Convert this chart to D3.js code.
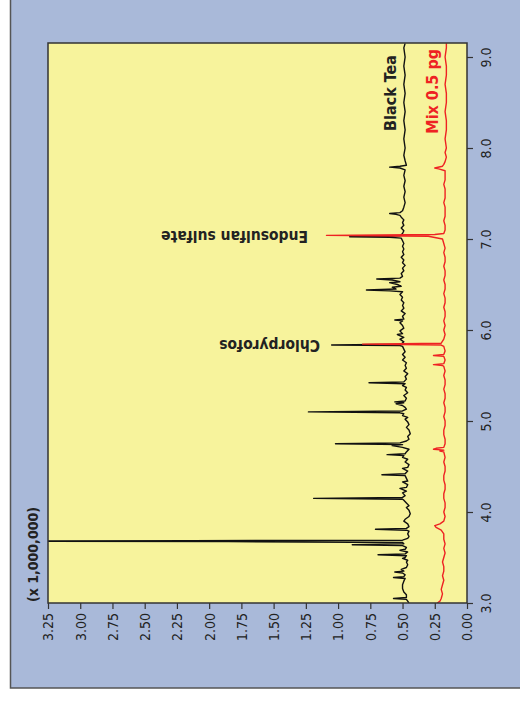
<!DOCTYPE html>
<html>
<head>
<meta charset="utf-8">
<script src="https://cdn.jsdelivr.net/npm/d3@7"></script>
<style>
  body { margin: 0; background: #fff; }
  svg text { font-family: "Liberation Sans Narrow", "DejaVu Sans Condensed", "Liberation Sans", sans-serif; }
</style>
</head>
<body>
<script>
// retention time ticks (min) and abundance ticks (x 1,000,000)
var timeTicks = [3.0, 4.0, 5.0, 6.0, 7.0, 8.0, 9.0];
var abundTicks = [0.00, 0.25, 0.50, 0.75, 1.00, 1.25, 1.50, 1.75, 2.00, 2.25, 2.50, 2.75, 3.00, 3.25];

// Black Tea trace: [time, abundance]
var blackTea = [
  [3.00,0.45],[3.02,0.46],[3.04,0.47],[3.05,0.57],[3.06,0.47],[3.09,0.47],[3.12,0.49],[3.16,0.50],
  [3.20,0.50],[3.24,0.49],[3.27,0.48],[3.28,0.57],[3.29,0.49],[3.31,0.48],[3.33,0.50],[3.34,0.56],
  [3.35,0.49],[3.37,0.51],[3.39,0.47],[3.42,0.46],[3.45,0.47],[3.47,0.46],[3.49,0.50],[3.50,0.48],
  [3.52,0.47],[3.53,0.69],[3.54,0.48],[3.56,0.46],[3.58,0.52],[3.59,0.48],[3.61,0.47],[3.63,0.50],
  [3.64,0.89],[3.65,0.49],[3.665,0.50],[3.675,1.85],[3.68,3.60],[3.685,2.13],[3.69,0.50],[3.71,0.46],
  [3.73,0.45],[3.76,0.46],[3.79,0.45],[3.80,0.47],[3.81,0.71],[3.82,0.47],[3.84,0.45],[3.87,0.46],
  [3.90,0.49],[3.92,0.48],[3.95,0.45],[3.98,0.44],[4.02,0.45],[4.05,0.47],[4.07,0.45],[4.10,0.47],
  [4.13,0.49],[4.14,0.50],[4.15,1.19],[4.16,0.50],[4.18,0.48],[4.21,0.50],[4.23,0.47],[4.26,0.52],
  [4.27,0.47],[4.30,0.46],[4.33,0.50],[4.34,0.46],[4.37,0.47],[4.40,0.48],[4.41,0.66],[4.42,0.48],
  [4.45,0.46],[4.48,0.50],[4.49,0.46],[4.52,0.45],[4.55,0.48],[4.58,0.46],[4.60,0.50],[4.62,0.49],
  [4.63,0.62],[4.64,0.48],[4.66,0.47],[4.69,0.45],[4.71,0.50],[4.73,0.58],[4.74,0.50],[4.75,1.02],
  [4.76,0.52],[4.78,0.47],[4.80,0.45],[4.83,0.46],[4.86,0.44],[4.90,0.45],[4.93,0.47],[4.96,0.45],
  [4.99,0.46],[5.02,0.48],[5.04,0.46],[5.06,0.50],[5.08,0.49],[5.09,0.52],[5.10,1.23],[5.11,0.50],
  [5.13,0.47],[5.15,0.48],[5.17,0.50],[5.19,0.55],[5.20,0.49],[5.21,0.56],[5.22,0.48],[5.25,0.47],
  [5.28,0.49],[5.31,0.46],[5.34,0.48],[5.37,0.47],[5.39,0.50],[5.41,0.48],[5.42,0.76],[5.43,0.49],
  [5.46,0.47],[5.49,0.48],[5.52,0.46],[5.55,0.49],[5.58,0.47],[5.61,0.48],[5.64,0.47],[5.67,0.50],
  [5.70,0.48],[5.73,0.50],[5.76,0.48],[5.79,0.49],[5.82,0.50],[5.83,0.52],[5.835,1.05],[5.845,0.51],
  [5.87,0.49],[5.90,0.52],[5.92,0.49],[5.95,0.54],[5.96,0.50],[5.99,0.52],[6.02,0.49],[6.05,0.50],
  [6.08,0.52],[6.10,0.50],[6.11,0.56],[6.12,0.49],[6.15,0.50],[6.18,0.48],[6.21,0.51],[6.24,0.49],
  [6.27,0.50],[6.30,0.49],[6.33,0.51],[6.36,0.50],[6.39,0.52],[6.42,0.50],[6.43,0.60],[6.44,0.78],
  [6.45,0.55],[6.47,0.58],[6.48,0.51],[6.50,0.54],[6.52,0.60],[6.53,0.52],[6.55,0.58],[6.56,0.70],
  [6.57,0.52],[6.59,0.50],[6.62,0.51],[6.65,0.49],[6.68,0.50],[6.71,0.48],[6.74,0.50],[6.77,0.49],
  [6.80,0.51],[6.83,0.49],[6.86,0.50],[6.89,0.49],[6.92,0.50],[6.95,0.49],[6.98,0.50],[7.01,0.51],
  [7.02,0.60],[7.025,0.91],[7.035,0.52],[7.06,0.50],[7.09,0.49],[7.12,0.51],[7.15,0.49],[7.18,0.50],
  [7.21,0.49],[7.24,0.51],[7.26,0.52],[7.27,0.55],[7.28,0.60],[7.29,0.52],[7.31,0.50],[7.35,0.49],
  [7.40,0.48],[7.46,0.49],[7.52,0.48],[7.58,0.49],[7.64,0.48],[7.70,0.49],[7.76,0.48],[7.78,0.52],
  [7.79,0.60],[7.80,0.52],[7.81,0.47],[7.86,0.48],[7.92,0.49],[8.00,0.48],[8.10,0.49],[8.20,0.48],
  [8.30,0.49],[8.40,0.48],[8.50,0.49],[8.60,0.48],[8.70,0.49],[8.80,0.48],[8.90,0.49],[9.00,0.48],
  [9.10,0.49],[9.15,0.48]
];

// Mix 0.5 pg trace: [time, abundance]
var mix05 = [
  [3.00,0.23],[3.02,0.21],[3.05,0.20],[3.10,0.19],[3.15,0.20],[3.20,0.19],[3.25,0.18],[3.30,0.19],
  [3.35,0.18],[3.40,0.18],[3.45,0.19],[3.50,0.18],[3.55,0.17],[3.60,0.18],[3.65,0.17],[3.70,0.18],
  [3.76,0.18],[3.80,0.20],[3.83,0.24],[3.85,0.25],[3.87,0.21],[3.90,0.18],[3.95,0.17],[4.00,0.18],
  [4.05,0.17],[4.10,0.17],[4.15,0.18],[4.20,0.18],[4.25,0.17],[4.30,0.17],[4.35,0.18],[4.40,0.18],
  [4.45,0.17],[4.50,0.17],[4.55,0.18],[4.60,0.17],[4.66,0.18],[4.67,0.21],[4.68,0.18],[4.69,0.26],
  [4.70,0.24],[4.71,0.18],[4.75,0.17],[4.80,0.17],[4.85,0.18],[4.90,0.18],[4.95,0.17],[5.00,0.17],
  [5.05,0.18],[5.10,0.17],[5.15,0.17],[5.20,0.18],[5.25,0.17],[5.30,0.17],[5.35,0.18],[5.40,0.17],
  [5.45,0.17],[5.50,0.18],[5.55,0.17],[5.60,0.18],[5.61,0.19],[5.62,0.26],[5.63,0.18],[5.67,0.17],
  [5.71,0.18],[5.72,0.26],[5.73,0.18],[5.77,0.17],[5.82,0.18],[5.835,0.20],[5.845,0.81],[5.855,0.20],
  [5.90,0.18],[5.95,0.17],[6.00,0.18],[6.05,0.17],[6.10,0.18],[6.15,0.17],[6.20,0.17],[6.25,0.18],
  [6.30,0.17],[6.35,0.17],[6.40,0.18],[6.45,0.17],[6.50,0.17],[6.55,0.18],[6.60,0.17],[6.65,0.17],
  [6.70,0.18],[6.75,0.17],[6.80,0.17],[6.85,0.18],[6.90,0.17],[6.95,0.18],[7.00,0.19],[7.03,0.30],
  [7.04,1.09],[7.05,0.25],[7.06,0.18],[7.10,0.17],[7.15,0.17],[7.20,0.18],[7.25,0.17],[7.30,0.17],
  [7.35,0.17],[7.40,0.18],[7.45,0.17],[7.50,0.17],[7.55,0.17],[7.60,0.18],[7.65,0.17],[7.70,0.17],
  [7.75,0.17],[7.77,0.22],[7.78,0.25],[7.80,0.19],[7.82,0.18],[7.85,0.17],[7.90,0.16],[7.95,0.17],
  [8.00,0.16],[8.10,0.17],[8.20,0.16],[8.30,0.16],[8.40,0.17],[8.50,0.16],[8.60,0.16],[8.70,0.17],
  [8.80,0.16],[8.90,0.16],[9.00,0.17],[9.10,0.16],[9.15,0.16]
];

var W = 520, H = 708;
var plot = { left: 48, right: 467, top: 43, bottom: 603 };

var svg = d3.select("body")
    .append("svg")
    .attr("width", W)
    .attr("height", H);

// outer panel
svg.append("rect")
    .attr("x", 10.5)
    .attr("y", -2)
    .attr("width", W)
    .attr("height", 690)
    .attr("fill", "#a9b9d9")
    .attr("stroke", "#555")
    .attr("stroke-width", 1.5);

// scales: time runs up the page, abundance grows to the left
var tScale = d3.scaleLinear()
    .domain([3.0, 9.0])
    .range([plot.bottom, plot.bottom - 6 * 91]);

var vScale = d3.scaleLinear()
    .domain([0, 3.25])
    .range([plot.right, plot.left]);

svg.append("rect")
    .attr("x", plot.left)
    .attr("y", plot.top)
    .attr("width", plot.right - plot.left)
    .attr("height", plot.bottom - plot.top)
    .attr("fill", "#f7f39c");

svg.append("clipPath")
    .attr("id", "clip")
    .append("rect")
    .attr("x", plot.left)
    .attr("y", plot.top)
    .attr("width", plot.right - plot.left)
    .attr("height", plot.bottom - plot.top);

var line = d3.line()
    .x(d => vScale(d[1]))
    .y(d => tScale(d[0]));

var traces = svg.append("g").attr("clip-path", "url(#clip)");

traces.append("path")
    .datum(blackTea)
    .attr("d", line)
    .attr("fill", "none")
    .attr("stroke", "#111")
    .attr("stroke-width", 1.4)
    .attr("stroke-linejoin", "round");

traces.append("path")
    .datum(mix05)
    .attr("d", line)
    .attr("fill", "none")
    .attr("stroke", "#ee2222")
    .attr("stroke-width", 1.4)
    .attr("stroke-linejoin", "round");

// plot frame
svg.append("rect")
    .attr("x", plot.left)
    .attr("y", plot.top)
    .attr("width", plot.right - plot.left)
    .attr("height", plot.bottom - plot.top)
    .attr("fill", "none")
    .attr("stroke", "#333")
    .attr("stroke-width", 1.5);

// time axis (right)
var tAxis = svg.append("g")
    .attr("transform", "translate(" + plot.right + ",0)")
    .call(d3.axisRight(tScale)
        .tickValues(timeTicks)
        .tickFormat(d3.format(".1f"))
        .tickSize(6)
        .tickSizeOuter(0));
tAxis.select(".domain").remove();
tAxis.selectAll("line").attr("stroke", "#333").attr("stroke-width", 1.2);
tAxis.selectAll("text")
    .attr("x", 0)
    .attr("text-anchor", "middle")
    .attr("transform", "translate(19,0) rotate(-90)")
    .attr("dy", "0.35em")
    .style("font-size", "14px")
    .attr("fill", "#222");

// abundance axis (bottom)
var vAxis = svg.append("g")
    .attr("transform", "translate(0," + plot.bottom + ")")
    .call(d3.axisBottom(vScale)
        .tickValues(abundTicks)
        .tickFormat(d3.format(".2f"))
        .tickSize(6)
        .tickSizeOuter(0));
vAxis.select(".domain").remove();
vAxis.selectAll("line").attr("stroke", "#333").attr("stroke-width", 1.2);
vAxis.selectAll("text")
    .attr("y", 0)
    .attr("text-anchor", "end")
    .attr("transform", "translate(0,10) rotate(-90)")
    .attr("dy", "0.35em")
    .style("font-size", "14px")
    .attr("fill", "#222");

// unit label
svg.append("text")
    .text("(x 1,000,000)")
    .attr("transform", "translate(33,602) rotate(-90)")
    .attr("text-anchor", "start")
    .attr("dy", "0.35em")
    .style("font-size", "14px")
    .style("font-weight", "bold")
    .attr("fill", "#222");

// series labels
svg.append("text")
    .text("Black Tea")
    .attr("transform", "translate(390,55) rotate(-90)")
    .attr("text-anchor", "end")
    .attr("dy", "0.35em")
    .style("font-size", "16px")
    .style("font-weight", "bold")
    .attr("fill", "#222");

svg.append("text")
    .text("Mix 0.5 pg")
    .attr("transform", "translate(432,49) rotate(-90)")
    .attr("text-anchor", "end")
    .attr("dy", "0.35em")
    .style("font-size", "16px")
    .style("font-weight", "bold")
    .attr("fill", "#ee2222");

// peak labels (printed upside down)
svg.append("text")
    .text("Endosulfan sulfate")
    .attr("transform", "translate(308," + tScale(7.03) + ") rotate(180)")
    .attr("text-anchor", "start")
    .attr("dy", "0.35em")
    .style("font-size", "15.5px")
    .style("font-weight", "bold")
    .attr("fill", "#222");

svg.append("text")
    .text("Chlorpyrofos")
    .attr("transform", "translate(320," + tScale(5.835) + ") rotate(180)")
    .attr("text-anchor", "start")
    .attr("dy", "0.35em")
    .style("font-size", "15.5px")
    .style("font-weight", "bold")
    .attr("fill", "#222");
</script>
</body>
</html>
